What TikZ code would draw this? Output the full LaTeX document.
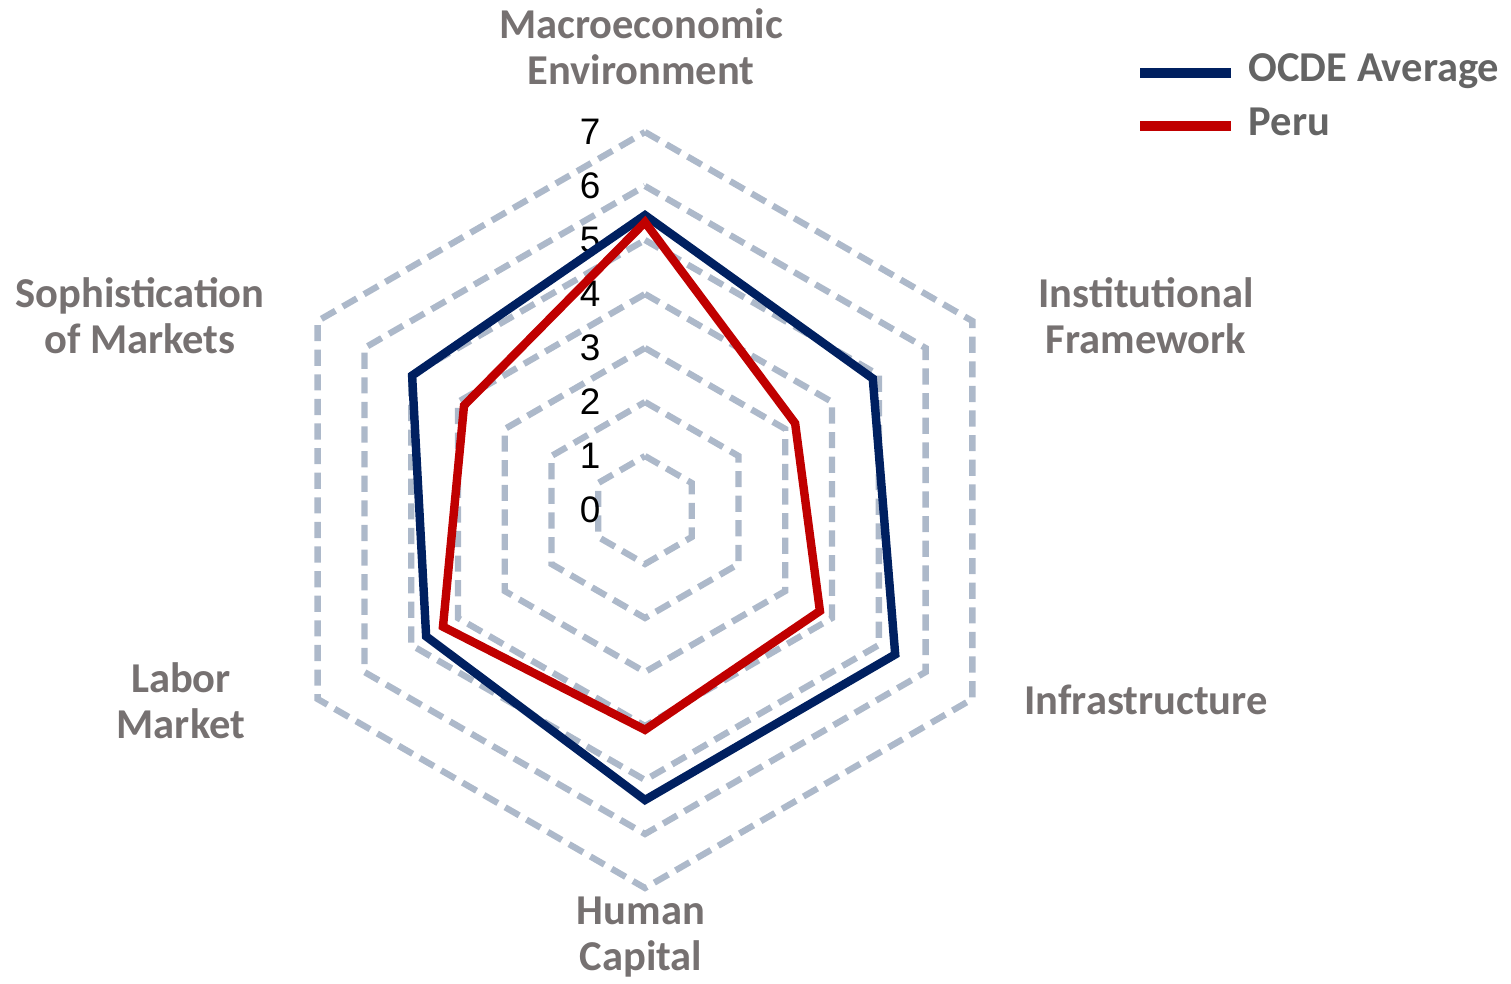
\documentclass[tikz,border=0pt]{standalone}
\usepackage{fontspec}
\setmainfont{Liberation Sans}
\newfontfamily\labelfont{Carlito}
\usetikzlibrary{positioning}
\definecolor{ocdeblue}{HTML}{002060}
\definecolor{perured}{HTML}{C00000}
\definecolor{gridgray}{HTML}{ADB9CA}
\definecolor{labelgray}{HTML}{767171}
\definecolor{legendgray}{HTML}{646464}
\tikzset{
  gridline/.style={gridgray, line width=1.8pt, dash pattern=on 4.6pt off 2.4pt},
  ocdeline/.style={ocdeblue, line width=2.4pt},
  peruline/.style={perured, line width=2.4pt},
  axislabel/.style={font=\labelfont\bfseries\fontsize{12.1}{13.1}\selectfont, text=labelgray, align=center, inner sep=0pt},
  legendlabel/.style={font=\labelfont\bfseries\fontsize{12.1}{13.1}\selectfont, text=legendgray, anchor=west, inner sep=0pt},
  ticklabel/.style={font=\fontsize{10.5}{12}\selectfont, inner sep=0pt}
}

\begin{document}
\begin{tikzpicture}
\useasboundingbox (0,0) rectangle (15.11,9.83);

\begin{scope}[shift={(6.45,4.73)}]
\foreach \r in {1,...,7}
  \draw[gridline] (90:{0.54*\r}) -- (30:{0.54*\r}) -- (-30:{0.54*\r}) -- (-90:{0.54*\r}) -- (-150:{0.54*\r}) -- (150:{0.54*\r}) -- cycle;

\foreach \r in {0,...,7}
  \node[ticklabel] (tick\r) at (-0.55,{0.54*\r}) {\r};

\coordinate (o1) at (90:{0.54*5.46});
\coordinate (o2) at (30:{0.54*4.87});
\coordinate (o3) at (-30:{0.54*5.35});
\coordinate (o4) at (-90:{0.54*5.37});
\coordinate (o5) at (-150:{0.54*4.68});
\coordinate (o6) at (150:{0.54*4.98});
\draw[ocdeline] (o1) -- (o2) -- (o3) -- (o4) -- (o5) -- (o6) -- cycle;

\coordinate (p1) at (90:{0.54*5.33});
\coordinate (p2) at (30:{0.54*3.21});
\coordinate (p3) at (-30:{0.54*3.74});
\coordinate (p4) at (-90:{0.54*4.07});
\coordinate (p5) at (-150:{0.54*4.32});
\coordinate (p6) at (150:{0.54*3.87});
\draw[peruline] (p1) -- (p2) -- (p3) -- (p4) -- (p5) -- (p6) -- cycle;
\end{scope}

\node[axislabel] (macro) at (6.41,9.36) {Macroeconomic\\Environment};
\node[axislabel] (inst) at (11.46,6.67) {Institutional\\Framework};
\node[axislabel] (infra) at (11.46,2.83) {Infrastructure};
\node[axislabel] (human) at (6.41,0.46) {Human\\Capital};
\node[axislabel] (labor) at (1.81,2.82) {Labor\\Market};
\node[axislabel] (soph) at (1.40,6.67) {Sophistication\\of Markets};

\coordinate (la) at (11.40,9.10);
\coordinate (lb) at (12.31,9.10);
\coordinate (lc) at (11.40,8.57);
\coordinate (ld) at (12.31,8.57);
\draw[ocdeblue, line width=2.8pt] (la) -- (lb);
\draw[perured, line width=2.8pt] (lc) -- (ld);
\node[legendlabel] (ocde) at (12.48,9.12) {OCDE Average};
\node[legendlabel] (peru) at (12.48,8.61) {Peru};
\end{tikzpicture}
\end{document}
